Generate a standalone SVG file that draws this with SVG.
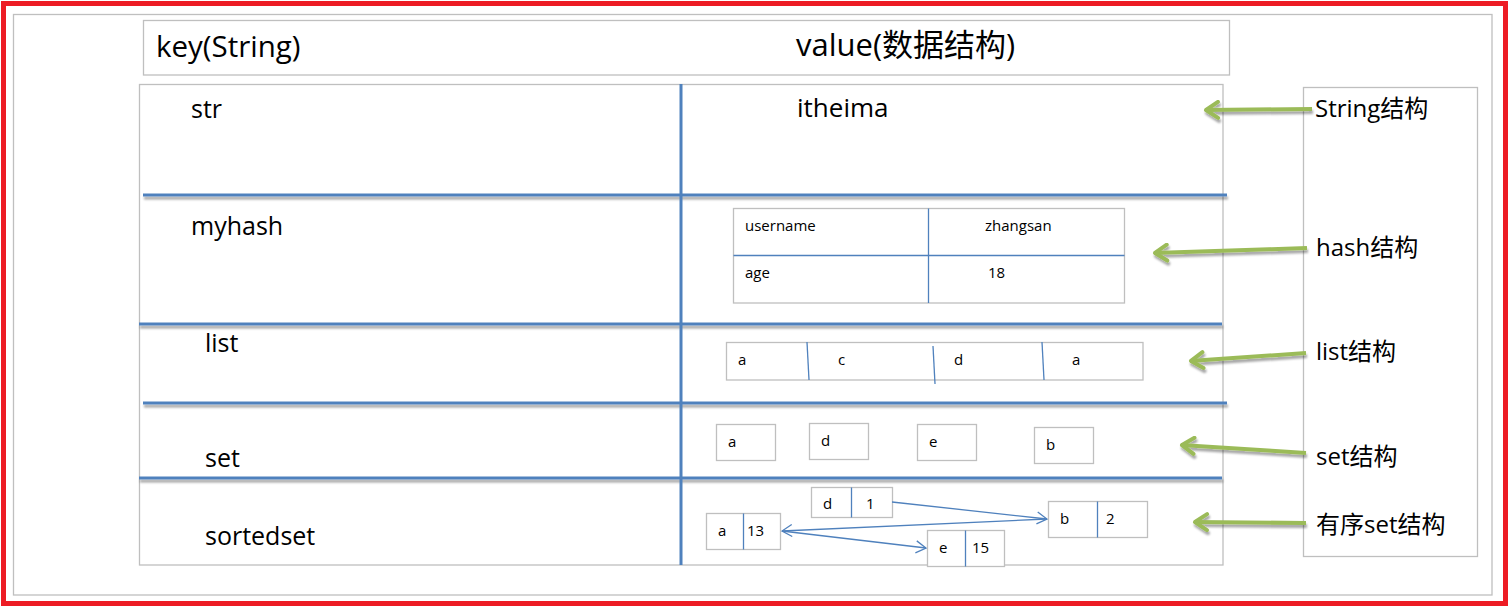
<svg xmlns="http://www.w3.org/2000/svg" width="1510" height="607" viewBox="0 0 1510 607">
<defs>
<style>
.box{fill:#fff;stroke:#BFBFBF;stroke-width:1.3}
.div{stroke:#4F81BD;stroke-width:3;fill:none}
.thin{stroke:#4F81BD;stroke-width:1.3;fill:none}
.t{font-family:"Open Sans","Noto Sans CJK SC",sans-serif;fill:#000}
.hd{font-size:29.5px}
.hv{font-size:31px}
.k{font-size:25px}
.s{font-size:15px}
.lab{font-size:24px}
.g{stroke:#9BBB59;stroke-width:4;fill:none}
.conn{stroke:#4F81BD;stroke-width:1.3;fill:none}
</style>
<filter id="sh" x="-5%" y="-50%" width="110%" height="300%">
<feDropShadow dx="1" dy="3" stdDeviation="1.2" flood-color="#000" flood-opacity="0.35"/>
</filter>
<marker id="ga" viewBox="-16 -10 18 20" markerWidth="18" markerHeight="20" refX="0" refY="0" orient="auto" markerUnits="userSpaceOnUse">
<path d="M-13,-8 L-1,0 L-13,8" stroke="#9BBB59" stroke-width="4" fill="none" stroke-linecap="round" stroke-linejoin="round"/>
</marker>
<marker id="ba" viewBox="-12 -7 13 14" markerWidth="13" markerHeight="14" refX="0" refY="0" orient="auto" markerUnits="userSpaceOnUse">
<path d="M-10,-6 L0,0 L-10,6" stroke="#4F81BD" stroke-width="1.3" fill="none"/>
</marker>
</defs>
<rect x="0" y="0" width="1510" height="607" fill="#fff"/>
<rect x="3.5" y="3.5" width="1502" height="600" fill="none" stroke="#ED1C24" stroke-width="5"/>
<rect x="13.5" y="14.5" width="1478.5" height="580.5" fill="none" stroke="#BFBFBF" stroke-width="1.3"/>

<g id="header">
<rect class="box" x="143.5" y="20.5" width="1086" height="54.5"/>
<text class="t hd" x="156" y="57">key(String)</text>
<text class="t hv" x="796" y="56">value(数据结构)</text>
</g>

<g id="table">
<rect class="box" x="139.5" y="84.5" width="1083.5" height="480.5"/>
<g filter="url(#sh)">
<line class="div" x1="143" y1="195" x2="1227" y2="195"/>
<line class="div" x1="139" y1="324" x2="1222" y2="324"/>
<line class="div" x1="143" y1="403" x2="1227" y2="403"/>
<line class="div" x1="139" y1="478" x2="1222" y2="478"/>
</g>
<line class="div" x1="681" y1="84" x2="681" y2="565"/>
</g>

<g id="str">
<text class="t k" x="191" y="118">str</text>
<text class="t k" x="797" y="117" style="font-size:26px">itheima</text>
</g>

<g id="myhash">
<text class="t k" x="191" y="235">myhash</text>
<rect class="box" x="733.5" y="208.5" width="391" height="94.5"/>
<line class="thin" x1="733.5" y1="255.5" x2="1124.5" y2="255.5"/>
<line class="thin" x1="928.5" y1="208.5" x2="928.5" y2="303"/>
<text class="t s" x="745" y="231">username</text>
<text class="t s" x="985" y="231">zhangsan</text>
<text class="t s" x="745" y="278">age</text>
<text class="t s" x="988" y="278">18</text>
</g>

<g id="list">
<text class="t k" x="205" y="352">list</text>
<rect class="box" x="726.5" y="342.5" width="416.5" height="37.5"/>
<line class="thin" x1="807" y1="342" x2="809" y2="380"/>
<line class="thin" x1="933" y1="346" x2="935" y2="384"/>
<line class="thin" x1="1042" y1="342" x2="1044" y2="380"/>
<text class="t s" x="738" y="365">a</text>
<text class="t s" x="838" y="365">c</text>
<text class="t s" x="954" y="365">d</text>
<text class="t s" x="1072" y="365">a</text>
</g>

<g id="set">
<text class="t k" x="205" y="467">set</text>
<rect class="box" x="716.5" y="424.5" width="59" height="36"/>
<rect class="box" x="809.5" y="423.5" width="59" height="36"/>
<rect class="box" x="917.5" y="424.5" width="59" height="36"/>
<rect class="box" x="1034.5" y="427.5" width="59" height="36"/>
<text class="t s" x="728" y="447">a</text>
<text class="t s" x="821" y="446">d</text>
<text class="t s" x="929" y="447">e</text>
<text class="t s" x="1046" y="450">b</text>
</g>

<g id="sortedset">
<text class="t k" x="205" y="545">sortedset</text>
<g id="z-d">
<rect class="box" x="811.5" y="487.5" width="81" height="30"/>
<line class="thin" x1="851.5" y1="487.5" x2="851.5" y2="517.5"/>
<text class="t s" x="823" y="509">d</text>
<text class="t s" x="866" y="509">1</text>
</g>
<g id="z-a">
<rect class="box" x="706.5" y="513.5" width="74" height="36"/>
<line class="thin" x1="743.5" y1="513.5" x2="743.5" y2="549.5"/>
<text class="t s" x="718" y="536">a</text>
<text class="t s" x="747" y="536">13</text>
</g>
<g id="z-b">
<rect class="box" x="1048.5" y="501.5" width="99" height="36"/>
<line class="thin" x1="1097.5" y1="501.5" x2="1097.5" y2="537.5"/>
<text class="t s" x="1060" y="524">b</text>
<text class="t s" x="1106" y="524">2</text>
</g>
<g id="z-e">
<rect class="box" x="927.5" y="530.5" width="77" height="36"/>
<line class="thin" x1="965.5" y1="530.5" x2="965.5" y2="566.5"/>
<text class="t s" x="939" y="553">e</text>
<text class="t s" x="972" y="553">15</text>
</g>
</g>

<g id="legend">
<rect class="box" x="1303.5" y="87.5" width="174" height="469"/>
<text class="t lab" x="1315" y="117">String结构</text>
<text class="t lab" x="1316" y="256">hash结构</text>
<text class="t lab" x="1316" y="360">list结构</text>
<text class="t lab" x="1316" y="465">set结构</text>
<text class="t lab" x="1316" y="533">有序set结构</text>
</g>

<g id="connectors">
<line class="conn" x1="892" y1="502" x2="1047" y2="519" marker-end="url(#ba)"/>
<line class="conn" x1="1047" y1="519" x2="782" y2="531" marker-end="url(#ba)"/>
<line class="conn" x1="782" y1="531" x2="926" y2="548" marker-end="url(#ba)"/>
<g filter="url(#sh)">
<line class="g" x1="1312" y1="109" x2="1205" y2="110" marker-end="url(#ga)"/>
<line class="g" x1="1307" y1="248" x2="1154" y2="253" marker-end="url(#ga)"/>
<line class="g" x1="1306" y1="353" x2="1190" y2="361" marker-end="url(#ga)"/>
<line class="g" x1="1306" y1="453" x2="1181" y2="445" marker-end="url(#ga)"/>
<line class="g" x1="1306" y1="523" x2="1194" y2="522" marker-end="url(#ga)"/>
</g>
</g>
</svg>
